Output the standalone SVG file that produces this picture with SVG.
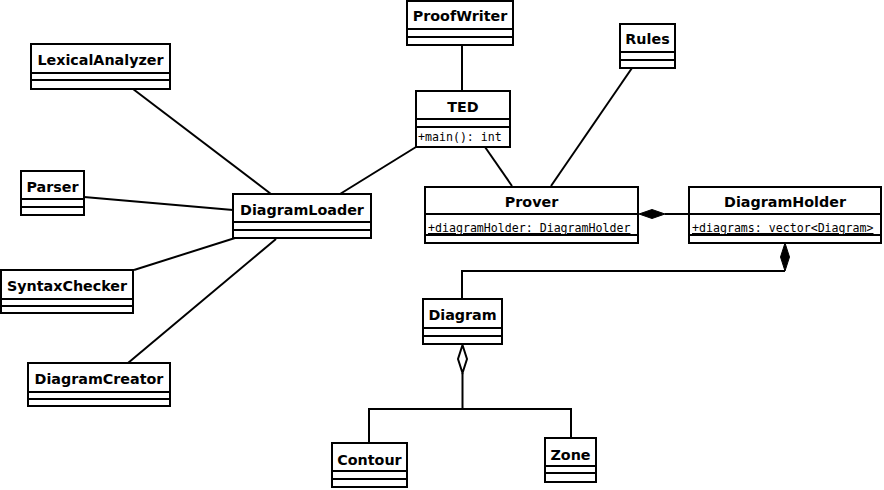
<svg xmlns="http://www.w3.org/2000/svg" width="884" height="490" viewBox="0 0 884 490">
<style>
.box{fill:#fff;stroke:#000;stroke-width:2}
.div{stroke:#000;stroke-width:2}
.t{font-family:"DejaVu Sans",sans-serif;font-weight:bold;font-size:14.3px;text-anchor:middle;fill:#000}
.a{font-family:"DejaVu Sans Mono",monospace;font-size:11.6px;fill:#000;text-decoration:underline}
.a2{font-family:"DejaVu Sans Mono",monospace;font-size:11.6px;fill:#000}
.c{stroke:#000;stroke-width:2;fill:none}
</style>
<rect width="884" height="490" fill="#fff"/>
<g id="connectors">
<line class="c" x1="462" y1="45" x2="462" y2="91"/>
<line class="c" x1="632" y1="68" x2="551" y2="186"/>
<line class="c" x1="416" y1="147" x2="340" y2="194"/>
<line class="c" x1="485" y1="147" x2="512" y2="186"/>
<line class="c" x1="133" y1="89" x2="271" y2="194"/>
<line class="c" x1="84" y1="197" x2="233" y2="210"/>
<line class="c" x1="134" y1="270" x2="235" y2="238"/>
<line class="c" x1="128" y1="363" x2="276" y2="239"/>
<line class="c" x1="665" y1="214" x2="689" y2="214"/>
<polygon points="639,214 652,209.5 665,214 652,218.5" fill="#000" stroke="#000" stroke-width="1"/>
<polyline class="c" points="785,271 462,271 462,299"/>
<polygon points="785,243 789.5,257 785,271 780.5,257" fill="#000" stroke="#000" stroke-width="1"/>
<polygon points="462.5,345 467,359 462.5,373 458,359" fill="#fff" stroke="#000" stroke-width="2"/>
<line class="c" x1="462.5" y1="373" x2="462.5" y2="409"/>
<polyline class="c" points="369,443 369,409 571,409 571,438"/>
</g>
<g id="ProofWriter">
<rect class="box" x="407" y="1" width="106" height="44"/>
<line class="div" x1="407" y1="29" x2="513" y2="29"/><line class="div" x1="407" y1="37" x2="513" y2="37"/>
<text class="t" x="460" y="21">ProofWriter</text>
</g>
<g id="Rules">
<rect class="box" x="620" y="24" width="55" height="44"/>
<line class="div" x1="620" y1="52" x2="675" y2="52"/><line class="div" x1="620" y1="60" x2="675" y2="60"/>
<text class="t" x="647.5" y="44">Rules</text>
</g>
<g id="TED">
<rect class="box" x="416" y="91" width="94" height="56"/>
<line class="div" x1="416" y1="119" x2="510" y2="119"/><line class="div" x1="416" y1="127" x2="510" y2="127"/>
<text class="t" x="463" y="111.5">TED</text>
<text class="a2" x="418" y="141">+main(): int</text>
</g>
<g id="LexicalAnalyzer">
<rect class="box" x="31" y="44" width="139" height="45"/>
<line class="div" x1="31" y1="73" x2="170" y2="73"/><line class="div" x1="31" y1="80" x2="170" y2="80"/>
<text class="t" x="100.5" y="64.5">LexicalAnalyzer</text>
</g>
<g id="Parser">
<rect class="box" x="21" y="171" width="63" height="44"/>
<line class="div" x1="21" y1="199" x2="84" y2="199"/><line class="div" x1="21" y1="207" x2="84" y2="207"/>
<text class="t" x="52.5" y="191.5">Parser</text>
</g>
<g id="DiagramLoader">
<rect class="box" x="233" y="194" width="138" height="44"/>
<line class="div" x1="233" y1="222" x2="371" y2="222"/><line class="div" x1="233" y1="230" x2="371" y2="230"/>
<text class="t" x="302" y="214.5">DiagramLoader</text>
</g>
<g id="SyntaxChecker">
<rect class="box" x="1" y="270" width="132" height="43"/>
<line class="div" x1="1" y1="299" x2="133" y2="299"/><line class="div" x1="1" y1="306" x2="133" y2="306"/>
<text class="t" x="67" y="290.5">SyntaxChecker</text>
</g>
<g id="DiagramCreator">
<rect class="box" x="28" y="363" width="142" height="43"/>
<line class="div" x1="28" y1="392" x2="170" y2="392"/><line class="div" x1="28" y1="399" x2="170" y2="399"/>
<text class="t" x="99" y="383.5">DiagramCreator</text>
</g>
<g id="Prover">
<rect class="box" x="425" y="187" width="213" height="56"/>
<line class="div" x1="425" y1="214" x2="638" y2="214"/><line class="div" x1="425" y1="235" x2="638" y2="235"/>
<text class="t" x="531.5" y="207">Prover</text>
<text class="a" x="428" y="232">+diagramHolder: DiagramHolder</text>
</g>
<g id="DiagramHolder">
<rect class="box" x="689" y="187" width="192" height="56"/>
<line class="div" x1="689" y1="214" x2="881" y2="214"/><line class="div" x1="689" y1="235" x2="881" y2="235"/>
<text class="t" x="785" y="207">DiagramHolder</text>
<text class="a" x="692" y="232">+diagrams: vector&lt;Diagram&gt;</text>
</g>
<g id="Diagram">
<rect class="box" x="423" y="299" width="79" height="45"/>
<line class="div" x1="423" y1="328" x2="502" y2="328"/><line class="div" x1="423" y1="336" x2="502" y2="336"/>
<text class="t" x="462.5" y="319.5">Diagram</text>
</g>
<g id="Contour">
<rect class="box" x="332" y="443" width="75" height="44"/>
<line class="div" x1="332" y1="471" x2="407" y2="471"/><line class="div" x1="332" y1="479" x2="407" y2="479"/>
<text class="t" x="369.5" y="464.5">Contour</text>
</g>
<g id="Zone">
<rect class="box" x="545" y="438" width="51" height="44"/>
<line class="div" x1="545" y1="466" x2="596" y2="466"/><line class="div" x1="545" y1="473" x2="596" y2="473"/>
<text class="t" x="570.5" y="459.5">Zone</text>
</g>
</svg>
